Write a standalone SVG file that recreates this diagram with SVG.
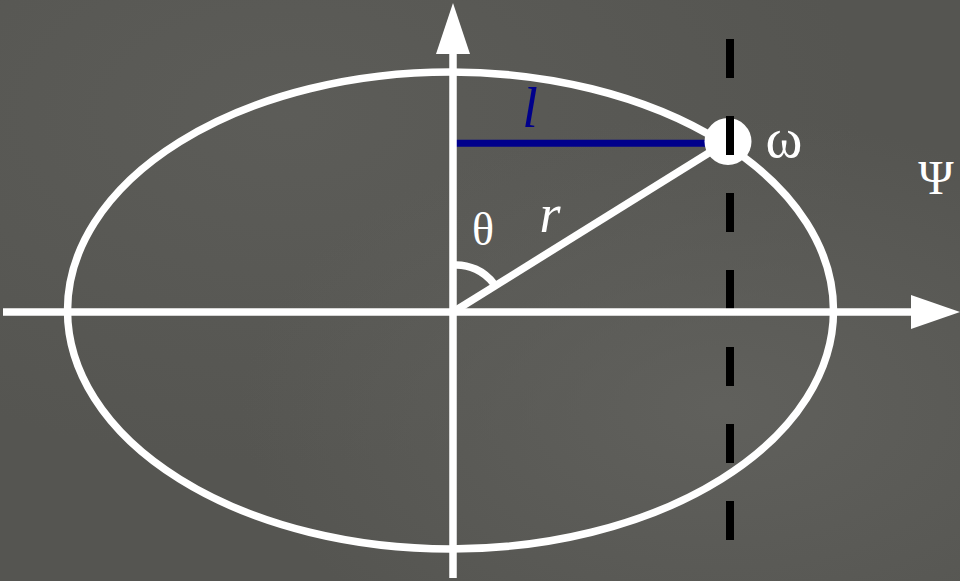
<svg xmlns="http://www.w3.org/2000/svg" width="960" height="581" viewBox="0 0 960 581">
  <defs>
    <style>
      .chalk { stroke: #ffffff; stroke-width: 7.5; fill: none; }
      .head { fill: #ffffff; stroke: none; }
      .lbl { font-family: "Liberation Serif", "DejaVu Serif", serif; fill: #ffffff; }
      .it { font-style: italic; }
    </style>
    <radialGradient id="bgA" cx="0.3" cy="0.2" r="0.6">
      <stop offset="0" stop-color="#5e5e5a" stop-opacity="0.8"/>
      <stop offset="1" stop-color="#5e5e5a" stop-opacity="0"/>
    </radialGradient>
    <radialGradient id="bgB" cx="0.75" cy="0.7" r="0.5">
      <stop offset="0" stop-color="#63635f" stop-opacity="0.8"/>
      <stop offset="1" stop-color="#63635f" stop-opacity="0"/>
    </radialGradient>
  </defs>
  <rect x="0" y="0" width="960" height="581" fill="#555551"/>
  <rect x="0" y="0" width="960" height="581" fill="url(#bgA)"/>
  <rect x="0" y="0" width="960" height="581" fill="url(#bgB)"/>

  <g id="ellipse">
    <ellipse class="chalk" cx="450.5" cy="310.5" rx="383" ry="238.5"/>
  </g>

  <g id="connectors">
    <line id="l-line" x1="453" y1="143.3" x2="712" y2="143.3" stroke="#00008B" stroke-width="7"/>
    <line id="r-line" class="chalk" x1="453" y1="312" x2="728" y2="141"/>
    <path id="theta-arc" class="chalk" stroke-width="6" d="M453,265 A47,47 0 0 1 494,284"/>
    <line id="dashed" x1="730" y1="39" x2="730" y2="540" stroke="#000000" stroke-width="8" stroke-dasharray="39 38"/>
    <line id="y-axis" class="chalk" x1="453" y1="50" x2="453" y2="578"/>
    <polygon class="head" points="453,3 436,54 470,54"/>
    <line id="x-axis" class="chalk" x1="3" y1="312" x2="915" y2="312"/>
    <polygon class="head" points="911,295 911,329 960,312"/>
  </g>

  <g id="node-omega">
    <circle cx="728" cy="141.5" r="23.5" fill="#ffffff"/>
    <line x1="730" y1="117" x2="730" y2="155" stroke="#000000" stroke-width="8"/>
  </g>

  <g id="labels">
    <text class="lbl" x="784" y="157" font-size="56" text-anchor="middle">ω</text>
    <text class="lbl" x="936" y="194" font-size="48" text-anchor="middle">Ψ</text>
    <text class="lbl" x="483" y="245" font-size="46" text-anchor="middle">θ</text>
    <text class="lbl it" x="550" y="232" font-size="54" text-anchor="middle">r</text>
    <text class="lbl it" x="530" y="127" font-size="56" text-anchor="middle" style="fill:#00008B">l</text>
  </g>
</svg>
